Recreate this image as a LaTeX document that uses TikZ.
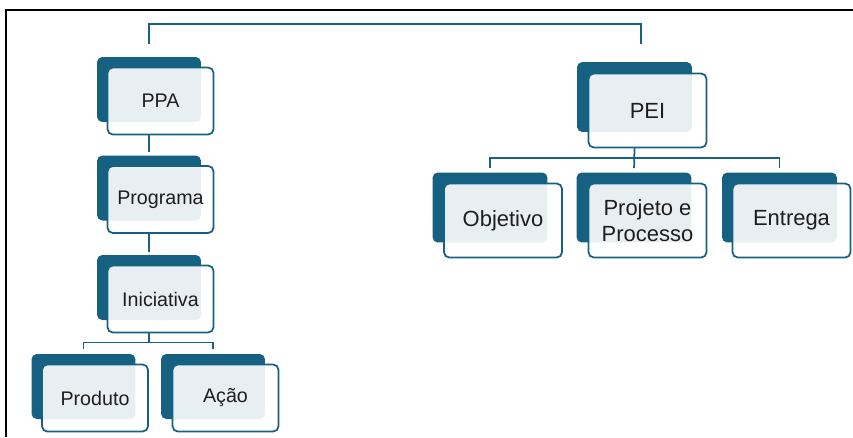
\documentclass[tikz,border=0pt]{standalone}
\usepackage{fontspec}
\setmainfont{Liberation Sans}
\usepackage{xcolor}
\usetikzlibrary{calc}
\definecolor{azul}{RGB}{22,96,130}
\definecolor{texto}{RGB}{30,30,30}
\tikzset{
    fundo/.style={fill=azul, rounded corners=3pt, minimum width=2.08cm, minimum height=1.3cm, inner sep=0pt},
    caixa/.style={draw=azul, line width=1pt, fill=white, fill opacity=0.9, text opacity=1, text=texto, rounded corners=3pt, minimum width=2.12cm, minimum height=1.34cm, inner sep=0pt, align=center, font=\fontsize{11.2}{14}\selectfont},
    grande/.style={minimum width=2.3cm, minimum height=1.4cm},
    grandecaixa/.style={minimum width=2.36cm, minimum height=1.48cm, font=\fontsize{12.5}{15}\selectfont},
    ligacao/.style={draw=azul, line width=1pt}
}

\begin{document}
\begin{tikzpicture}[x=0.02cm, y=-0.02cm]

        \useasboundingbox (0,0) rectangle (853,437);
        \draw[line width=1.1pt] (6,437) |- (853,10);

        \node[fundo] (ppaB) at (149,89.5) {};
        \node[caixa] (ppa) at (160.5,101) {PPA};
        \node[fundo] (progB) at (149,188) {};
        \node[caixa] (prog) at (160.5,199.5) {Programa};
        \node[fundo] (iniB) at (149,287.5) {};
        \node[caixa] (ini) at (160.5,299) {Iniciativa};
        \node[fundo] (prodB) at (83.5,386.5) {};
        \node[caixa] (prod) at (95,398) {Produto};
        \node[fundo] (acaoB) at (213,386.5) {};
        \node[caixa] (acao) at (225.5,398) {Ação};

        \node[fundo, grande] (peiB) at (634.5,97) {};
        \node[caixa, grandecaixa] (pei) at (647.5,110.5) {PEI};
        \node[fundo, grande] (objB) at (490,207.5) {};
        \node[caixa, grandecaixa] (obj) at (503,220.5) {Objetivo};
        \node[fundo, grande] (projB) at (634,207.5) {};
        \node[caixa, grandecaixa] (proj) at (647.5,220.5) {Projeto e\\Processo};
        \node[fundo, grande] (entB) at (779.5,207.5) {};
        \node[caixa, grandecaixa] (ent) at (791.5,220.5) {Entrega};

        \coordinate (topo) at (400,24);
        \draw[ligacao] ([yshift=0.26cm]ppaB.north) |- (topo) -| ([xshift=0.13cm, yshift=0.36cm]peiB.north);

        \draw[ligacao, shorten >=0.06cm] (ppaB.south |- ppa.south) -- (progB.north);
        \draw[ligacao, shorten >=0.06cm] (progB.south |- prog.south) -- (iniB.north);
        \draw[ligacao, shorten >=0.1cm] (iniB.south |- ini.south) -- ++(0,9) -| (prodB.north);
        \draw[ligacao, shorten >=0.1cm] (iniB.south |- ini.south) -- ++(0,9) -| (acaoB.north);

        \draw[ligacao, shorten >=0.08cm] (peiB.south |- pei.south) -- ++(0,10) -| (objB.north);
        \draw[ligacao, shorten >=0.08cm] (peiB.south |- pei.south) -- (projB.north);
        \draw[ligacao, shorten >=0.08cm] (peiB.south |- pei.south) -- ++(0,10) -| (entB.north);

    \end{tikzpicture}
\end{document}
